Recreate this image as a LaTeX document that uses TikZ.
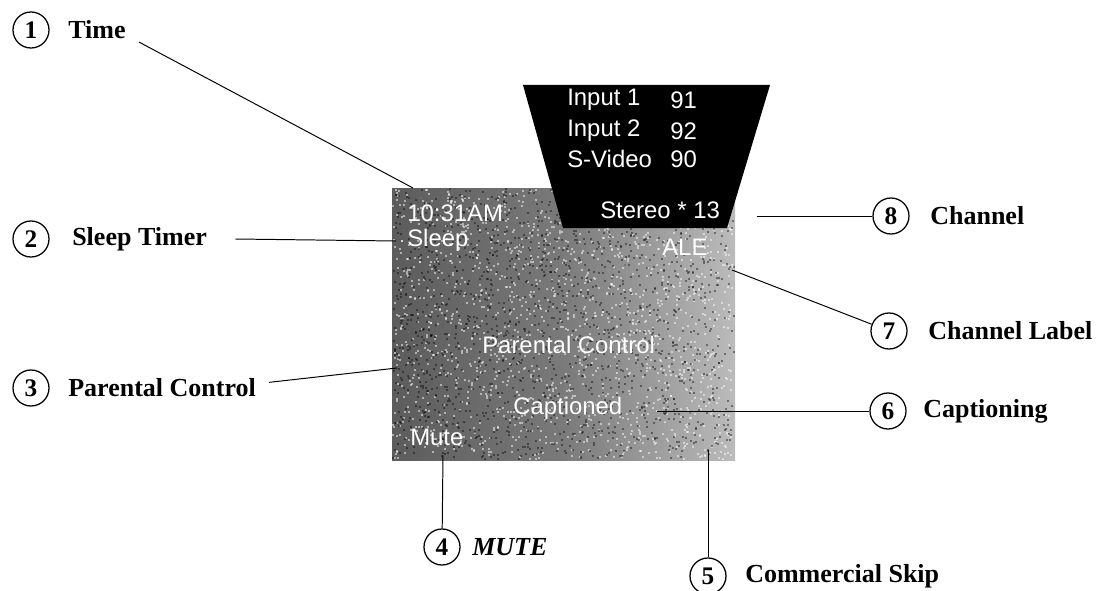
\documentclass[tikz,border=0pt]{standalone}
\usepackage{fontspec}
\setmainfont{Liberation Serif}
\newfontfamily\screenfont{Liberation Sans}
\usetikzlibrary{calc}
\pgfdeclarehorizontalshading{screenshade}{100bp}{color(0bp)=(black!58); color(25bp)=(black!64); color(50bp)=(black!52); color(70bp)=(black!32); color(86bp)=(black!14); color(100bp)=(black!40)}
\begin{document}
\begin{tikzpicture}[x=0.025cm,y=-0.025cm,
  numcirc/.style={draw,circle,line width=0.9pt,minimum size=0.9cm,inner sep=0pt,font=\fontsize{18}{20}\selectfont\bfseries},
  callout/.style={anchor=west,inner sep=0pt,font=\fontsize{18.5}{22}\selectfont\bfseries},
  osd/.style={anchor=west,inner sep=0pt,text=white,font=\screenfont\fontsize{17}{20}\selectfont},
  lead/.style={line width=0.7pt}]
\useasboundingbox (0,0) rectangle (1100,591);
% the screen
\shade[shading=screenshade] (392,188) rectangle (735,460);
\pgfmathsetseed{11}
\foreach \i in {1,...,1600}{
  \pgfmathsetmacro\nx{392+341*rnd}
  \pgfmathsetmacro\ny{188+270*rnd}
  \fill[white,opacity=0.5] (\nx,\ny) rectangle +(2,2);
}
\foreach \i in {1,...,1600}{
  \pgfmathsetmacro\nx{392+341*rnd}
  \pgfmathsetmacro\ny{188+270*rnd}
  \fill[black,opacity=0.4] (\nx,\ny) rectangle +(2,2);
}
\fill[black] (523,85) -- (770,85) -- (727,228) -- (563,228) -- cycle;
\node[osd] (in1) at (567,100) {Input 1};
\node[osd] (in1n) at (670,100) {91};
\node[osd] (in2) at (567,131) {Input 2};
\node[osd] (in2n) at (670,131) {92};
\node[osd] (svid) at (567,159) {S-Video};
\node[osd] (svidn) at (670,159) {90};
\node[osd] (stereo) at (600,210) {Stereo * 13};
\node[osd] (clock) at (407,213) {10:31AM};
\node[osd] (sleep) at (407,240) {Sleep};
\node[osd] (chlab) at (662,247) {ALE};
\node[osd] (parent) at (482,345) {Parental Control};
\node[osd] (capt) at (513,408) {Captioned};
\node[osd] (mute) at (410,437) {Mute};
% points on the screen
\coordinate (pTime) at (413,188);
\coordinate (pSleep) at (396,241);
\coordinate (pParent) at (397,368);
\coordinate (pMute) at (443,455);
\coordinate (pSkip) at (708,450);
\coordinate (pCapt) at (657,411);
\coordinate (pLabel) at (732,270);
\coordinate (pChan) at (757,216);
% callouts
\node[numcirc] (c1) at (31,30) {1};
\node[callout] (lTime) at (68,30) {Time};
\node[numcirc] (c2) at (31,239) {2};
\node[callout] (lSleep) at (72,239) {Sleep Timer};
\node[numcirc] (c3) at (31,388) {3};
\node[callout] (lParent) at (68,388) {Parental Control};
\node[numcirc] (c4) at (442,547) {4};
\node[callout] (lMute) at (472,547) {\itshape MUTE};
\node[numcirc] (c5) at (708,576) {5};
\node[callout] (lSkip) at (745,576) {Commercial Skip};
\node[numcirc] (c6) at (888,411) {6};
\node[callout] (lCapt) at (923,411) {Captioning};
\node[numcirc] (c7) at (889,331) {7};
\node[callout] (lLabel) at (928,331) {Channel Label};
\node[numcirc] (c8) at (891,216) {8};
\node[callout] (lChan) at (930,216) {Channel};
\draw[lead] ([shift={(13,12)}]lTime.east) -- (pTime);
\draw[lead] ([xshift=20]lSleep.east) -- (pSleep);
\draw[lead] ([xshift=9,yshift=4]lParent.east) -- (pParent);
\draw[lead] (pMute) -- (c4);
\draw[lead] (pSkip) -- (c5);
\draw[lead] (pCapt) -- (c6);
\draw[lead] (pLabel) -- (c7);
\draw[lead] (pChan) -- (c8);
\end{tikzpicture}
\end{document}
